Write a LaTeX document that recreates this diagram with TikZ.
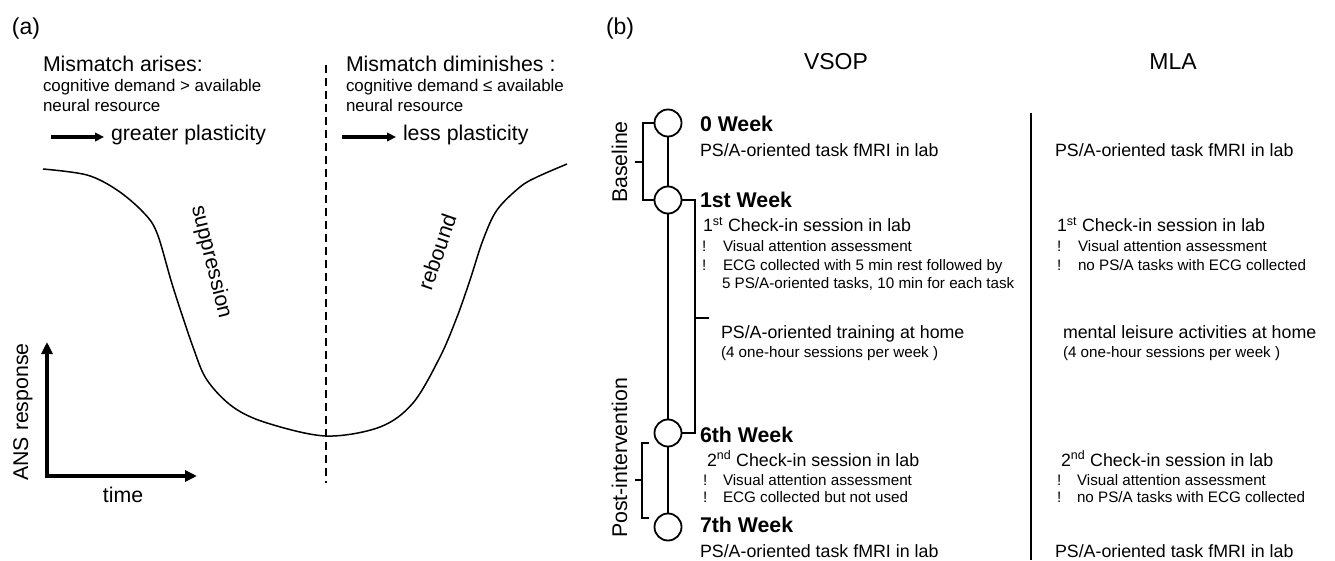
\documentclass[tikz,border=0pt]{standalone}
\usepackage{fontspec}
\setmainfont{Liberation Sans}
\usetikzlibrary{arrows.meta}
\newcommand\fhuge{\fontsize{23}{27}\selectfont}
\newcommand\fbig{\fontsize{21.3}{25}\selectfont}
\newcommand\fmid{\fontsize{17.8}{21}\selectfont}
\newcommand\fsmall{\fontsize{15.2}{18}\selectfont}
\newcommand\fcog{\fontsize{16.9}{20}\selectfont}
\begin{document}
\begin{tikzpicture}[x=1pt,y=-1pt,
  txt/.style={inner sep=0pt,outer sep=0pt,anchor=base west},
  big/.style={txt,font=\fbig},
  mid/.style={txt,font=\fmid},
  small/.style={txt,font=\fsmall},
  wk/.style={txt,font=\fbig\bfseries},
  bang/.style={txt,font=\fsmall},
  thinline/.style={line width=1.8pt},
  pointer/.style={line width=3.3pt,-{Triangle[length=9pt,width=8.5pt]}},
  axis/.style={line width=3.6pt,{Triangle[length=12pt,width=11pt]}-{Triangle[length=12pt,width=11pt]},miter limit=10},
  milestone/.style={circle,draw,line width=1.8pt,minimum size=27pt,inner sep=0pt,fill=white},
  dashline/.style={line width=1.5pt,dash pattern=on 8pt off 5pt}]
\useasboundingbox (0,0) rectangle (1335,561);

% ---------------- (a) ----------------
\node[txt,font=\fhuge] (la) at (12,35) {(a)};
\node[big] (ma) at (43,72) {Mismatch arises:};
\node[txt,font=\fcog] (ma1) at (43,92) {cognitive demand > available};
\node[txt,font=\fcog] (ma2) at (43,112) {neural resource};
\node[big] (gp) at (111,141) {greater plasticity};
\coordinate (ga0) at (51,137);
\coordinate (ga1) at (104,137);
\draw[pointer] (ga0) -- (ga1);

\node[big] (md) at (346,72) {Mismatch diminishes :};
\node[txt,font=\fcog] (md1) at (346,92) {cognitive demand ≤ available};
\node[txt,font=\fcog] (md2) at (346,112) {neural resource};
\node[big] (lp) at (403,141) {less plasticity};
\coordinate (la0) at (342,137);
\coordinate (la1) at (396,137);
\draw[pointer] (la0) -- (la1);

\coordinate (dtop) at (326,65);
\coordinate (dbot) at (326,483);
\draw[dashline] (dtop) -- (dbot);

\draw[line width=1.5pt] plot[smooth,tension=0.55] coordinates {
 (43,169) (87,175) (117,190) (143,212) (157,233) (173,287) (193,347)
 (207,380) (233,407) (267,423) (326,436) (380,427) (413,403) (440,357)
 (457,317) (470,280) (483,240) (497,210) (520,187) (537,177) (567,164)};

\node[inner sep=0pt,font=\fbig,rotate=-76] (sup) at (211,262) {suppression};
\node[inner sep=0pt,font=\fbig,rotate=71] (reb) at (437,252) {rebound};

\coordinate (ytip) at (47,342);
\coordinate (orig) at (47,476);
\coordinate (xtip) at (197,476);
\draw[axis] (ytip) -- (orig) -- (xtip);
\node[inner sep=0pt,font=\fbig,rotate=90,anchor=base] (ans) at (28,412) {ANS response};
\node[inner sep=0pt,font=\fbig,anchor=base] (time) at (123,502) {time};

% ---------------- (b) ----------------
\node[txt,font=\fhuge] (lb) at (606,35) {(b)};
\node[inner sep=0pt,font=\fhuge,anchor=base] (vsop) at (836,70) {VSOP};
\node[inner sep=0pt,font=\fhuge,anchor=base] (mla) at (1173,70) {MLA};

\node[milestone] (c0) at (668,123) {};
\node[milestone] (c1) at (668,200) {};
\node[milestone] (c6) at (668,433) {};
\node[milestone] (c7) at (668,527) {};
\draw[thinline] (c0) -- (c1);
\draw[thinline] (c1) -- (c6);
\draw[thinline] (c6) -- (c7);

% Baseline bracket
\coordinate (bb0) at (643,123);
\coordinate (bb1) at (643,200);
\coordinate (bbm) at (643,162);
\coordinate (bbt) at (635,162);
\draw[thinline] (c0.west) -- (bb0) -- (bb1) -- (c1.west);
\draw[thinline] (bbm) -- (bbt);
\node[inner sep=0pt,font=\fbig,rotate=90,anchor=base] (basel) at (627,162) {Baseline};

% Post-intervention bracket
\coordinate (pb0a) at (649,443);
\coordinate (pb0) at (642,443);
\coordinate (pb1) at (642,518);
\coordinate (pb1a) at (649,518);
\coordinate (pbm) at (642,480);
\coordinate (pbt) at (635,480);
\draw[thinline] (pb0a) -- (pb0) -- (pb1) -- (pb1a);
\draw[thinline] (pbm) -- (pbt);
\node[inner sep=0pt,font=\fbig,rotate=90,anchor=base] (postl) at (627,458) {Post-intervention};

% Training bracket
\coordinate (tbm) at (695,318);
\coordinate (tbt) at (709,318);
\draw[thinline] (c1.east) -| (tbm) |- (c6.east);
\draw[thinline] (tbm) -- (tbt);

% separator
\coordinate (s0) at (1031,113);
\coordinate (s1) at (1031,560);
\draw[line width=1.8pt] (s0) -- (s1);

% VSOP column
\node[wk] (w0) at (700,132) {0 Week};
\node[mid] (v0) at (700,157) {PS/A-oriented task fMRI in lab};
\node[wk] (w1) at (700,208) {1st Week};
\node[mid] (v1) at (703,232) {1\textsuperscript{st} Check-in session in lab};
\node[bang] (v1b1) at (702,252) {!};
\node[small] (v1t1) at (723,252) {Visual attention assessment};
\node[bang] (v1b2) at (702,270) {!};
\node[small] (v1t2) at (723,270) {ECG collected with 5 min rest followed by};
\node[small] (v1t3) at (722,288) {5 PS/A-oriented tasks, 10 min for each task};
\node[mid] (vtr) at (721,338) {PS/A-oriented training at home};
\node[small] (vtr2) at (721,357) {(4 one-hour sessions per week )};
\node[wk] (w6) at (700,442) {6th Week};
\node[mid] (v6) at (707,466) {2\textsuperscript{nd} Check-in session in lab};
\node[bang] (v6b1) at (703,485) {!};
\node[small] (v6t1) at (723,485) {Visual attention assessment};
\node[bang] (v6b2) at (703,502) {!};
\node[small] (v6t2) at (723,502) {ECG collected but not used};
\node[wk] (w7) at (700,532) {7th Week};
\node[mid] (v7) at (700,557) {PS/A-oriented task fMRI in lab};

% MLA column
\node[mid] (m0) at (1055,157) {PS/A-oriented task fMRI in lab};
\node[mid] (m1) at (1057,232) {1\textsuperscript{st} Check-in session in lab};
\node[bang] (m1b1) at (1057,252) {!};
\node[small] (m1t1) at (1078,252) {Visual attention assessment};
\node[bang] (m1b2) at (1057,270) {!};
\node[small] (m1t2) at (1078,270) {no PS/A tasks with ECG collected};
\node[mid] (mtr) at (1063,338) {mental leisure activities at home};
\node[small] (mtr2) at (1063,357) {(4 one-hour sessions per week )};
\node[mid] (m6) at (1061,466) {2\textsuperscript{nd} Check-in session in lab};
\node[bang] (m6b1) at (1057,485) {!};
\node[small] (m6t1) at (1077,485) {Visual attention assessment};
\node[bang] (m6b2) at (1057,502) {!};
\node[small] (m6t2) at (1077,502) {no PS/A tasks with ECG collected};
\node[mid] (m7) at (1055,557) {PS/A-oriented task fMRI in lab};
\end{tikzpicture}
\end{document}
